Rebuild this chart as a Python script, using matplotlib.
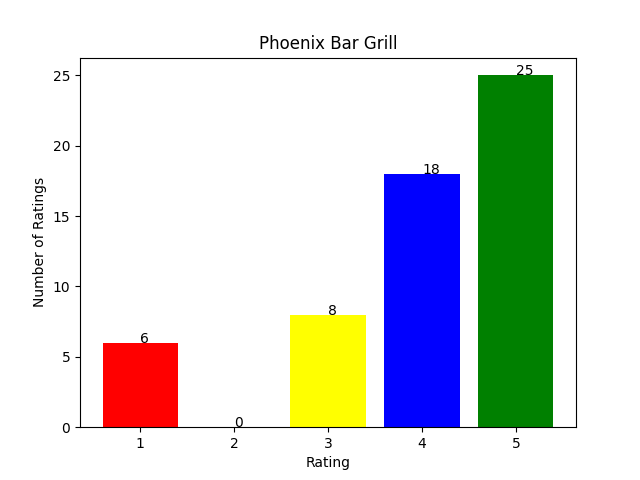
import matplotlib
matplotlib.use("Agg")
import matplotlib.pyplot as plt

ratings = [1, 2, 3, 4, 5]
counts = [6, 0, 8, 18, 25]
colors = ["red", "orange", "yellow", "blue", "green"]

fig, ax = plt.subplots(figsize=(6.4, 4.8), dpi=100)
ax.bar(ratings, counts, color=colors)
for r, c in zip(ratings, counts):
    ax.text(r, c, str(c))
ax.set_title("Phoenix Bar Grill")
ax.set_xlabel("Rating")
ax.set_ylabel("Number of Ratings")
fig.savefig("out.png")
